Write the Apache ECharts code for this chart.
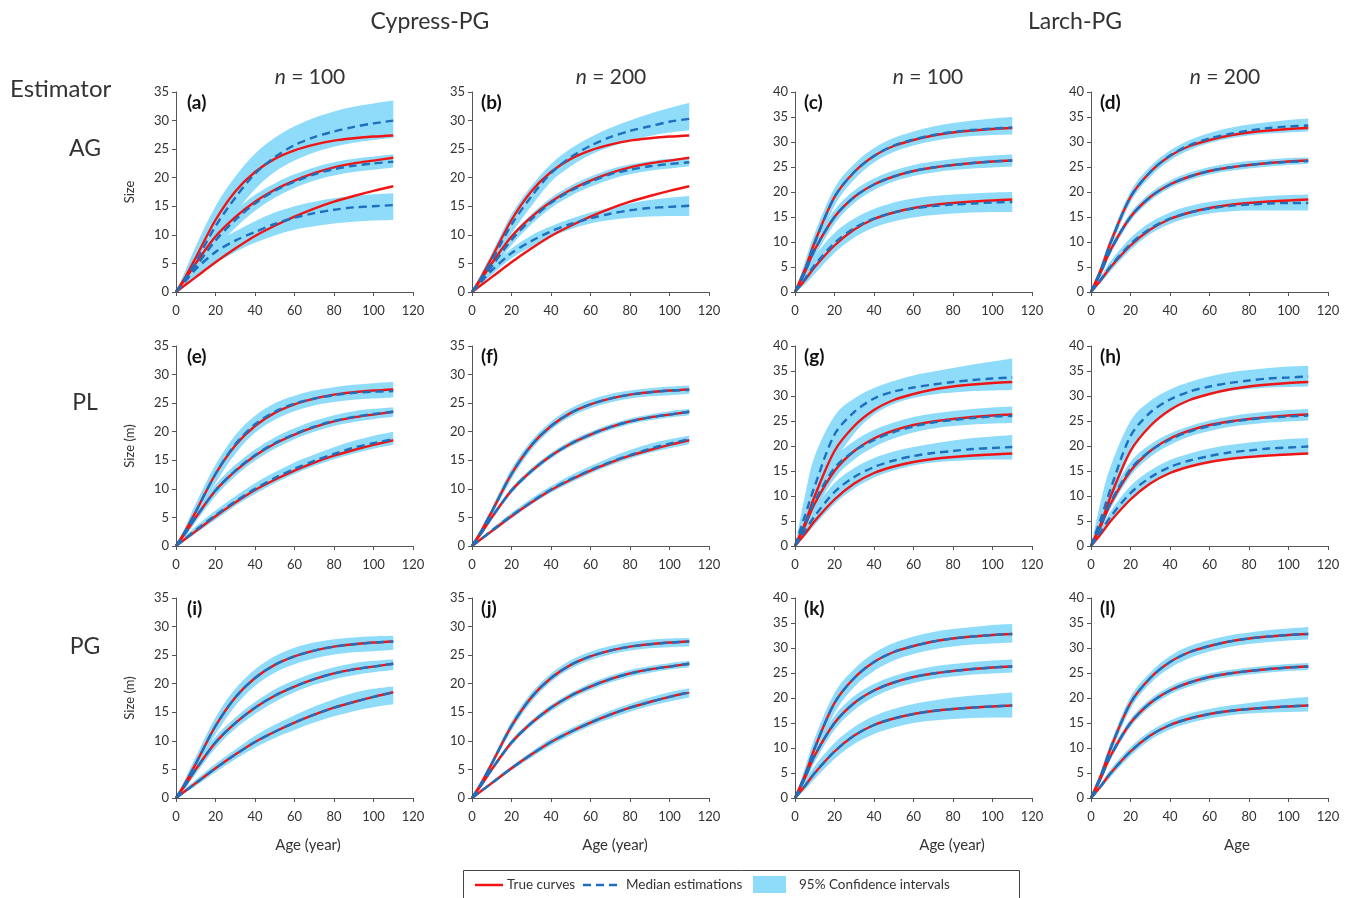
<!DOCTYPE html>
<html><head><meta charset="utf-8">
<script src="https://cdn.jsdelivr.net/npm/echarts@6/dist/echarts.min.js"></script>
<style>html,body{margin:0;padding:0;background:#fff}#c{width:1352px;height:898px}</style>
</head><body><div id="c"></div>
<script>
// Age points (years)
const AGE = [0, 5, 10, 20, 30, 40, 50, 60, 70, 80, 90, 100, 110];

// True curves (top, middle, bottom)
const CYP_TRUE_TOP = [0, 2.8, 6.0, 12.6, 17.6, 21.0, 23.3, 24.8, 25.8, 26.5, 26.9, 27.2, 27.4];
const CYP_TRUE_MID = [0, 2.4, 5.0, 9.7, 13.1, 15.8, 17.9, 19.5, 20.8, 21.8, 22.5, 23.0, 23.5];
const CYP_TRUE_BOT = [0, 1.3, 2.6, 5.2, 7.6, 9.8, 11.6, 13.2, 14.6, 15.8, 16.8, 17.7, 18.5];
const LAR_TRUE_TOP = [0, 4.5, 10.0, 19.0, 24.0, 27.2, 29.2, 30.4, 31.3, 31.9, 32.3, 32.6, 32.8];
const LAR_TRUE_MID = [0, 4.0, 8.5, 15.0, 19.0, 21.5, 23.1, 24.2, 24.9, 25.4, 25.8, 26.1, 26.3];
const LAR_TRUE_BOT = [0, 2.4, 5.0, 9.3, 12.5, 14.6, 15.9, 16.8, 17.4, 17.8, 18.1, 18.3, 18.5];

// (a) AG, Cypress, n=100
const A_MED = [[0, 2.5, 5.3, 11.5, 16.5, 20.7, 23.6, 25.7, 27.1, 28.1, 28.9, 29.5, 30.0],
               [0, 2.1, 4.4, 9.0, 12.6, 15.5, 17.7, 19.3, 20.6, 21.5, 22.1, 22.5, 22.8],
               [0, 2.0, 4.0, 7.0, 9.0, 10.5, 11.9, 13.0, 13.8, 14.4, 14.8, 15.0, 15.2]];
const A_LO = [[0, 1.2, 3.2, 8.8, 13.8, 18.0, 21.0, 23.0, 24.4, 25.4, 26.1, 26.6, 27.0],
              [0, 1.4, 3.2, 7.6, 11.2, 14.2, 16.5, 18.2, 19.5, 20.4, 21.0, 21.4, 21.8],
              [0, 1.2, 2.5, 5.0, 7.0, 8.6, 9.9, 10.9, 11.5, 12.0, 12.3, 12.5, 12.6]];
const A_HI = [[0, 4.0, 8.0, 15.0, 20.2, 24.2, 27.0, 29.0, 30.5, 31.6, 32.4, 33.0, 33.5],
              [0, 2.8, 5.6, 10.6, 14.2, 17.0, 19.0, 20.6, 21.8, 22.7, 23.3, 23.7, 24.1],
              [0, 2.6, 5.0, 8.6, 10.6, 12.4, 13.9, 15.0, 15.8, 16.4, 16.8, 17.1, 17.3]];
// (b) AG, Cypress, n=200
const B_MED = [[0, 2.6, 5.5, 11.8, 16.7, 20.8, 23.6, 25.6, 27.1, 28.2, 29.0, 29.8, 30.3],
               [0, 2.2, 4.5, 9.1, 12.7, 15.6, 17.7, 19.3, 20.6, 21.4, 22.0, 22.4, 22.7],
               [0, 1.9, 3.8, 6.8, 8.9, 10.6, 11.9, 12.9, 13.7, 14.3, 14.7, 14.9, 15.1]];
const B_LO = [[0, 1.8, 4.3, 10.2, 15.0, 19.3, 22.0, 24.0, 25.4, 26.5, 27.3, 27.9, 28.3],
              [0, 1.7, 3.7, 8.2, 11.8, 14.7, 16.8, 18.4, 19.7, 20.6, 21.2, 21.6, 22.0],
              [0, 1.5, 3.0, 5.9, 7.9, 9.7, 11.0, 12.0, 12.6, 13.0, 13.2, 13.3, 13.3]];
const B_HI = [[0, 3.4, 6.8, 13.6, 18.5, 22.4, 25.1, 27.1, 28.7, 30.0, 31.2, 32.2, 33.1],
              [0, 2.7, 5.3, 10.0, 13.6, 16.5, 18.6, 20.2, 21.5, 22.3, 22.9, 23.3, 23.6],
              [0, 2.3, 4.6, 7.6, 9.9, 11.5, 12.8, 13.9, 14.8, 15.5, 16.1, 16.5, 16.8]];
// (c) AG, Larch, n=100
const C_MED = [[0, 4.3, 9.8, 19.0, 24.0, 27.2, 29.3, 30.5, 31.4, 32.0, 32.4, 32.7, 32.9],
               [0, 3.9, 8.4, 15.0, 19.0, 21.5, 23.1, 24.2, 24.9, 25.4, 25.8, 26.1, 26.3],
               [0, 2.6, 5.4, 9.8, 12.8, 14.7, 15.9, 16.7, 17.2, 17.5, 17.7, 17.9, 18.0]];
const C_LO = [[0, 3.0, 7.8, 17.2, 22.5, 25.9, 28.0, 29.3, 30.2, 30.8, 31.2, 31.4, 31.5],
              [0, 2.9, 7.0, 13.6, 17.8, 20.4, 22.1, 23.2, 23.9, 24.4, 24.7, 24.9, 25.1],
              [0, 1.5, 3.6, 7.8, 10.9, 12.9, 14.1, 14.9, 15.4, 15.7, 15.9, 16.0, 16.0]];
const C_HI = [[0, 6.0, 11.8, 20.8, 25.6, 28.8, 30.8, 32.1, 33.1, 33.8, 34.3, 34.7, 35.0],
              [0, 5.0, 9.8, 16.4, 20.3, 22.7, 24.3, 25.4, 26.1, 26.6, 27.0, 27.3, 27.5],
              [0, 3.6, 7.2, 11.8, 14.7, 16.6, 17.9, 18.7, 19.2, 19.5, 19.7, 19.9, 20.0]];
// (d) AG, Larch, n=200
const D_MED = [[0, 4.4, 9.9, 19.0, 24.0, 27.3, 29.4, 30.7, 31.6, 32.3, 32.8, 33.1, 33.3],
               [0, 3.9, 8.4, 15.0, 19.0, 21.5, 23.1, 24.2, 24.9, 25.4, 25.8, 26.0, 26.2],
               [0, 2.5, 5.2, 9.6, 12.7, 14.7, 15.9, 16.7, 17.2, 17.5, 17.7, 17.8, 17.8]];
const D_LO = [[0, 3.6, 8.8, 17.9, 23.0, 26.3, 28.4, 29.8, 30.7, 31.3, 31.7, 31.9, 32.1],
              [0, 3.3, 7.6, 14.2, 18.2, 20.8, 22.4, 23.5, 24.2, 24.7, 25.1, 25.4, 25.6],
              [0, 1.9, 4.2, 8.4, 11.6, 13.6, 14.9, 15.7, 16.1, 16.3, 16.3, 16.3, 16.3]];
const D_HI = [[0, 5.4, 11.0, 20.1, 25.1, 28.3, 30.4, 31.8, 32.8, 33.5, 34.0, 34.4, 34.7],
              [0, 4.6, 9.2, 15.8, 19.8, 22.3, 23.9, 25.0, 25.7, 26.2, 26.5, 26.8, 26.9],
              [0, 3.1, 6.2, 10.8, 13.9, 15.9, 17.2, 18.0, 18.5, 18.9, 19.2, 19.4, 19.5]];
// (e) PL, Cypress, n=100
const E_MED = [[0, 2.8, 6.0, 12.6, 17.8, 21.3, 23.5, 24.9, 25.8, 26.4, 26.8, 27.0, 27.1],
               [0, 2.4, 5.0, 9.7, 13.2, 15.9, 18.0, 19.6, 20.9, 21.9, 22.6, 23.1, 23.5],
               [0, 1.4, 2.8, 5.4, 7.8, 10.0, 11.9, 13.5, 14.9, 16.1, 17.2, 18.0, 18.7]];
const E_LO = [[0, 2.0, 4.8, 11.0, 16.1, 19.8, 22.1, 23.6, 24.6, 25.2, 25.6, 25.8, 26.0],
              [0, 1.8, 4.2, 8.7, 12.2, 14.9, 17.0, 18.7, 20.0, 21.0, 21.7, 22.2, 22.6],
              [0, 1.0, 2.2, 4.6, 7.0, 9.1, 11.0, 12.6, 14.0, 15.2, 16.2, 17.0, 17.7]];
const E_HI = [[0, 3.6, 7.4, 14.2, 19.4, 22.8, 25.0, 26.3, 27.2, 27.8, 28.2, 28.5, 28.7],
              [0, 3.0, 5.9, 10.7, 14.2, 16.9, 19.0, 20.6, 21.9, 22.9, 23.6, 24.0, 24.3],
              [0, 1.8, 3.4, 6.2, 8.7, 11.0, 12.9, 14.6, 16.0, 17.3, 18.4, 19.3, 20.0]];
// (f) PL, Cypress, n=200
const F_MED = [[0, 2.8, 6.0, 12.6, 17.6, 21.0, 23.3, 24.8, 25.8, 26.5, 26.9, 27.2, 27.3],
               [0, 2.4, 5.0, 9.7, 13.1, 15.8, 17.9, 19.5, 20.8, 21.8, 22.5, 23.0, 23.5],
               [0, 1.3, 2.7, 5.3, 7.7, 9.9, 11.7, 13.3, 14.7, 15.9, 17.0, 17.9, 18.7]];
const F_LO = [[0, 2.3, 5.3, 11.7, 16.8, 20.3, 22.6, 24.1, 25.1, 25.8, 26.2, 26.4, 26.6],
              [0, 2.1, 4.6, 9.2, 12.6, 15.3, 17.4, 19.0, 20.3, 21.3, 22.0, 22.5, 22.9],
              [0, 1.1, 2.3, 4.8, 7.2, 9.3, 11.1, 12.7, 14.1, 15.3, 16.3, 17.1, 17.8]];
const F_HI = [[0, 3.3, 6.7, 13.5, 18.4, 21.8, 24.1, 25.6, 26.6, 27.2, 27.6, 27.9, 28.1],
              [0, 2.7, 5.4, 10.2, 13.6, 16.3, 18.4, 20.0, 21.3, 22.3, 23.0, 23.6, 24.0],
              [0, 1.5, 3.0, 5.8, 8.3, 10.5, 12.4, 14.0, 15.5, 16.8, 17.9, 18.7, 19.3]];
// (g) PL, Larch, n=100
const G_MED = [[0, 6.0, 12.0, 22.3, 26.8, 29.5, 30.9, 31.7, 32.3, 32.8, 33.2, 33.5, 33.7],
               [0, 4.3, 9.0, 15.6, 19.0, 21.2, 22.8, 23.9, 24.7, 25.2, 25.6, 25.9, 26.0],
               [0, 3.0, 6.0, 10.8, 13.8, 15.8, 17.1, 18.0, 18.6, 19.0, 19.4, 19.6, 19.8]];
const G_LO = [[0, 3.0, 7.5, 16.5, 22.5, 26.3, 28.4, 29.6, 30.3, 30.7, 31.0, 31.1, 31.2],
              [0, 3.0, 7.0, 13.5, 17.3, 19.8, 21.5, 22.7, 23.5, 24.0, 24.3, 24.5, 24.6],
              [0, 2.0, 4.2, 8.4, 11.5, 13.7, 15.1, 16.1, 16.7, 17.0, 17.2, 17.3, 17.3]];
const G_HI = [[0, 10.0, 18.0, 26.0, 29.5, 31.6, 33.0, 34.1, 34.9, 35.6, 36.3, 36.9, 37.5],
              [0, 5.5, 10.8, 17.5, 21.0, 23.2, 24.7, 25.8, 26.5, 27.0, 27.4, 27.7, 27.9],
              [0, 4.0, 7.6, 12.6, 15.6, 17.6, 18.9, 19.8, 20.5, 21.1, 21.6, 21.9, 22.2]];
// (h) PL, Larch, n=200
const H_MED = [[0, 5.5, 11.5, 22.0, 26.7, 29.3, 30.9, 31.9, 32.6, 33.1, 33.5, 33.7, 33.9],
               [0, 4.2, 8.8, 15.4, 19.0, 21.3, 22.9, 24.0, 24.8, 25.3, 25.7, 25.9, 26.1],
               [0, 2.9, 5.9, 10.6, 13.7, 15.8, 17.1, 18.0, 18.7, 19.1, 19.5, 19.7, 19.9]];
const H_LO = [[0, 3.5, 8.5, 18.5, 23.8, 27.0, 29.0, 30.3, 31.0, 31.4, 31.7, 31.8, 31.9],
              [0, 3.4, 7.6, 14.0, 17.8, 20.2, 21.9, 23.0, 23.8, 24.3, 24.7, 24.9, 25.1],
              [0, 2.3, 4.8, 9.2, 12.3, 14.5, 15.9, 16.9, 17.6, 18.0, 18.3, 18.4, 18.5]];
const H_HI = [[0, 9.0, 16.0, 25.0, 29.0, 31.3, 32.8, 33.9, 34.7, 35.2, 35.6, 35.9, 36.0],
              [0, 5.0, 10.0, 16.8, 20.3, 22.5, 24.0, 25.1, 25.9, 26.5, 26.9, 27.2, 27.4],
              [0, 3.5, 7.0, 12.0, 15.1, 17.2, 18.5, 19.5, 20.2, 20.7, 21.1, 21.4, 21.6]];
// (i) PG, Cypress, n=100
const I_MED = [CYP_TRUE_TOP, CYP_TRUE_MID, CYP_TRUE_BOT];
const I_LO = [[0, 2.0, 4.9, 11.1, 16.1, 19.6, 21.9, 23.4, 24.4, 25.1, 25.5, 25.7, 25.9],
              [0, 1.8, 4.2, 8.7, 12.1, 14.7, 16.8, 18.5, 19.8, 20.8, 21.5, 22.0, 22.4],
              [0, 1.0, 2.1, 4.5, 6.8, 8.8, 10.5, 11.9, 13.2, 14.3, 15.2, 15.9, 16.4]];
const I_HI = [[0, 3.6, 7.2, 14.1, 19.1, 22.5, 24.8, 26.3, 27.2, 27.8, 28.1, 28.3, 28.4],
              [0, 3.0, 5.9, 10.7, 14.1, 16.8, 19.0, 20.6, 21.9, 22.9, 23.6, 24.0, 24.3],
              [0, 1.7, 3.2, 6.0, 8.5, 10.9, 12.8, 14.5, 16.0, 17.3, 18.4, 19.1, 19.5]];
// (j) PG, Cypress, n=200
const J_MED = [CYP_TRUE_TOP, CYP_TRUE_MID, CYP_TRUE_BOT];
const J_LO = [[0, 2.4, 5.4, 11.8, 16.8, 20.3, 22.6, 24.1, 25.1, 25.8, 26.2, 26.4, 26.5],
              [0, 2.1, 4.6, 9.2, 12.6, 15.2, 17.3, 18.9, 20.2, 21.2, 21.9, 22.5, 22.9],
              [0, 1.1, 2.3, 4.8, 7.1, 9.2, 11.0, 12.6, 13.9, 15.1, 16.1, 16.9, 17.6]];
const J_HI = [[0, 3.2, 6.6, 13.4, 18.4, 21.8, 24.1, 25.6, 26.6, 27.3, 27.7, 27.9, 28.0],
              [0, 2.7, 5.4, 10.2, 13.6, 16.3, 18.4, 20.1, 21.4, 22.4, 23.1, 23.6, 24.0],
              [0, 1.5, 2.9, 5.6, 8.1, 10.4, 12.2, 13.8, 15.3, 16.5, 17.6, 18.5, 19.2]];
// (k) PG, Larch, n=100
const K_MED = [LAR_TRUE_TOP, LAR_TRUE_MID, LAR_TRUE_BOT];
const K_LO = [[0, 3.2, 8.2, 17.0, 22.2, 25.4, 27.5, 28.8, 29.7, 30.3, 30.7, 30.9, 31.1],
              [0, 3.0, 7.2, 13.6, 17.6, 20.2, 21.9, 23.0, 23.8, 24.3, 24.7, 24.9, 25.1],
              [0, 1.6, 3.8, 7.8, 10.8, 12.8, 14.1, 15.0, 15.5, 15.8, 16.0, 16.1, 16.1]];
const K_HI = [[0, 6.0, 12.0, 21.0, 25.8, 29.0, 31.0, 32.3, 33.2, 33.8, 34.2, 34.6, 34.8],
              [0, 5.0, 9.8, 16.4, 20.4, 22.8, 24.4, 25.5, 26.3, 26.8, 27.2, 27.5, 27.7],
              [0, 3.3, 6.4, 11.0, 14.2, 16.4, 17.8, 18.8, 19.5, 20.1, 20.5, 20.8, 21.1]];
// (l) PG, Larch, n=200
const L_MED = [LAR_TRUE_TOP, LAR_TRUE_MID, LAR_TRUE_BOT];
const L_LO = [[0, 3.7, 8.9, 17.8, 22.9, 26.0, 28.0, 29.3, 30.2, 30.8, 31.2, 31.5, 31.7],
              [0, 3.4, 7.7, 14.2, 18.2, 20.7, 22.3, 23.5, 24.2, 24.7, 25.1, 25.4, 25.6],
              [0, 1.9, 4.2, 8.4, 11.6, 13.7, 15.0, 15.9, 16.5, 16.9, 17.1, 17.2, 17.3]];
const L_HI = [[0, 5.4, 11.1, 20.2, 25.1, 28.4, 30.4, 31.6, 32.5, 33.1, 33.6, 33.9, 34.2],
              [0, 4.6, 9.3, 15.8, 19.8, 22.3, 23.9, 24.9, 25.6, 26.1, 26.5, 26.8, 27.0],
              [0, 2.9, 5.8, 10.2, 13.4, 15.5, 16.9, 17.8, 18.5, 19.0, 19.5, 19.9, 20.2]];

const PANEL_LABELS = ['(a)','(b)','(c)','(d)','(e)','(f)','(g)','(h)','(i)','(j)','(k)','(l)'];
const ROW_NAMES = ['AG', 'PL', 'PG'];
const COL_TITLES = ['100', '200', '100', '200'];
const SPECIES = ['Cypress-PG', 'Larch-PG'];
const Y_NAMES = ['Size', 'Size (m)', 'Size (m)'];
const X_NAMES = ['Age (year)', 'Age (year)', 'Age (year)', 'Age'];
const Y_MAX = [35, 35, 40, 40];

// ---------- build ----------
const MEDS = [A_MED,B_MED,C_MED,D_MED,E_MED,F_MED,G_MED,H_MED,I_MED,J_MED,K_MED,L_MED];
const LOS  = [A_LO,B_LO,C_LO,D_LO,E_LO,F_LO,G_LO,H_LO,I_LO,J_LO,K_LO,L_LO];
const HIS  = [A_HI,B_HI,C_HI,D_HI,E_HI,F_HI,G_HI,H_HI,I_HI,J_HI,K_HI,L_HI];
const TRUES = [[CYP_TRUE_TOP, CYP_TRUE_MID, CYP_TRUE_BOT], [LAR_TRUE_TOP, LAR_TRUE_MID, LAR_TRUE_BOT]];

const FONT = 'Lato, "Open Sans", sans-serif';
const TXT = '#333333';
const AXC = '#555555';
const RED = '#F01414';
const BLUE = '#1E6FBE';
const BAND = '#8FDCFA';

const lefts = [176, 472, 795, 1091];
const tops = [92, 346, 598];
const W = 237, H = 200;

const grid = [], xAxis = [], yAxis = [], series = [];
const pair = arr => AGE.map((x, i) => [x, arr[i]]);

// smooth path (Catmull-Rom -> cubic bezier) through screen points
function smoothSeg(pts, start) {
  let d = start ? 'M' + pts[0][0] + ',' + pts[0][1] : 'L' + pts[0][0] + ',' + pts[0][1];
  const n = pts.length;
  for (let i = 0; i < n - 1; i++) {
    const p0 = pts[Math.max(i - 1, 0)], p1 = pts[i], p2 = pts[i + 1], p3 = pts[Math.min(i + 2, n - 1)];
    const t = 0.17;
    const c1 = [p1[0] + (p2[0] - p0[0]) * t, p1[1] + (p2[1] - p0[1]) * t];
    const c2 = [p2[0] - (p3[0] - p1[0]) * t, p2[1] - (p3[1] - p1[1]) * t];
    d += 'C' + c1[0] + ',' + c1[1] + ' ' + c2[0] + ',' + c2[1] + ' ' + p2[0] + ',' + p2[1];
  }
  return d;
}

for (let r = 0; r < 3; r++) {
  for (let c = 0; c < 4; c++) {
    const p = r * 4 + c;
    grid.push({ left: lefts[c], top: tops[r], width: W, height: H });
    xAxis.push({
      gridIndex: p, type: 'value', min: 0, max: 120, interval: 20,
      axisLine: { show: true, lineStyle: { color: AXC, width: 1 } },
      axisTick: { show: true, length: 4, lineStyle: { color: AXC } },
      splitLine: { show: false },
      axisLabel: { color: TXT, fontSize: 13, fontFamily: FONT, margin: 12 },
      z: 10
    });
    yAxis.push({
      gridIndex: p, type: 'value', min: 0, max: Y_MAX[c], interval: 5,
      name: c === 0 ? Y_NAMES[r] : '', nameLocation: 'middle', nameGap: 40, nameRotate: 90,
      nameTextStyle: { color: TXT, fontSize: 13, fontFamily: FONT },
      axisLine: { show: true, lineStyle: { color: AXC, width: 1 } },
      axisTick: { show: true, length: 4, lineStyle: { color: AXC } },
      splitLine: { show: false },
      axisLabel: { color: TXT, fontSize: 13, fontFamily: FONT, margin: 7 },
      z: 10
    });
    const tr = TRUES[c < 2 ? 0 : 1];
    const lo3 = LOS[p], hi3 = HIS[p];
    // confidence bands as closed smooth areas between lower and upper limits
    series.push({
      type: 'custom', xAxisIndex: p, yAxisIndex: p, silent: true, z: 1,
      data: [[0, 0], [1, 0], [2, 0]],
      renderItem: (params, api) => {
        const k = params.dataIndex;
        const lo = AGE.map((x, i) => api.coord([x, lo3[k][i]]));
        const hi = AGE.map((x, i) => api.coord([x, hi3[k][i]])).reverse();
        const d = smoothSeg(lo, true) + smoothSeg(hi, false) + 'Z';
        return { type: 'path', shape: { pathData: d }, style: { fill: BAND, stroke: null } };
      }
    });
    for (let k = 0; k < 3; k++) {
      series.push({
        type: 'line', xAxisIndex: p, yAxisIndex: p, data: pair(tr[k]),
        symbol: 'none', smooth: 0.3, lineStyle: { color: RED, width: 2.4 }, silent: true, z: 3
      });
    }
    for (let k = 0; k < 3; k++) {
      series.push({
        type: 'line', xAxisIndex: p, yAxisIndex: p, data: pair(MEDS[p][k]),
        symbol: 'none', smooth: 0.3, lineStyle: { color: BLUE, width: 2.4, type: [8, 5] }, silent: true, z: 4
      });
    }
  }
}

const graphic = [];
const txt = (text, x, y, size, opts) => ({
  type: 'text', silent: true, z: 20,
  style: Object.assign({ text, x, y, fill: TXT, fontSize: size, fontFamily: FONT,
    align: 'center', verticalAlign: 'middle', textAlign: 'center', textVerticalAlign: 'middle' }, opts || {})
});
graphic.push(txt(SPECIES[0], 430, 22, 23));
graphic.push(txt(SPECIES[1], 1075, 22, 23));
const nX = [310, 611, 928, 1225];
COL_TITLES.forEach((t, i) => {
  graphic.push({ type: 'text', silent: true, z: 20, style: {
    text: '{i|n} = ' + t, x: nX[i], y: 77, fill: TXT, fontSize: 21, fontFamily: FONT,
    align: 'center', verticalAlign: 'middle', textAlign: 'center', textVerticalAlign: 'middle',
    rich: { i: { fontStyle: 'italic', fontSize: 21, fontFamily: FONT, fill: TXT } } } });
});
graphic.push(txt('Estimator', 10, 89, 24, { align: 'left', textAlign: 'left' }));
const rowY = [149, 403, 647];
ROW_NAMES.forEach((t, i) => graphic.push(txt(t, 85, rowY[i], 23)));
const labX = [187, 481, 804, 1100];
const labY = [103, 357, 609];
PANEL_LABELS.forEach((t, p) => {
  graphic.push(txt(t, labX[p % 4], labY[Math.floor(p / 4)], 19,
    { align: 'left', textAlign: 'left', fontWeight: 'bold', fill: '#111' }));
});
const xnX = [308, 615, 952, 1237];
X_NAMES.forEach((t, i) => graphic.push(txt(t, xnX[i], 845, 15)));

// legend box
graphic.push({ type: 'rect', silent: true, z: 20, shape: { x: 463.5, y: 870.5, width: 556, height: 40 },
  style: { fill: '#fff', stroke: '#444', lineWidth: 1 } });
graphic.push({ type: 'line', silent: true, z: 21, shape: { x1: 475, y1: 885, x2: 503, y2: 885 },
  style: { stroke: RED, lineWidth: 2.5 } });
graphic.push(Object.assign(txt('True curves', 507, 885, 13.5, { align: 'left', textAlign: 'left' }), { z: 21 }));
graphic.push({ type: 'line', silent: true, z: 21, shape: { x1: 583, y1: 885, x2: 621, y2: 885 },
  style: { stroke: BLUE, lineWidth: 2.5, lineDash: [8, 5] } });
graphic.push(Object.assign(txt('Median estimations', 626, 885, 13.5, { align: 'left', textAlign: 'left' }), { z: 21 }));
graphic.push({ type: 'rect', silent: true, z: 21, shape: { x: 753, y: 876, width: 33, height: 17 },
  style: { fill: BAND } });
graphic.push(Object.assign(txt('95% Confidence intervals', 799, 885, 13.5, { align: 'left', textAlign: 'left' }), { z: 21 }));

const chart = echarts.init(document.getElementById('c'), null, { renderer: 'canvas' });
chart.setOption({ animation: false, backgroundColor: '#fff', grid, xAxis, yAxis, series, graphic });
</script></body></html>
